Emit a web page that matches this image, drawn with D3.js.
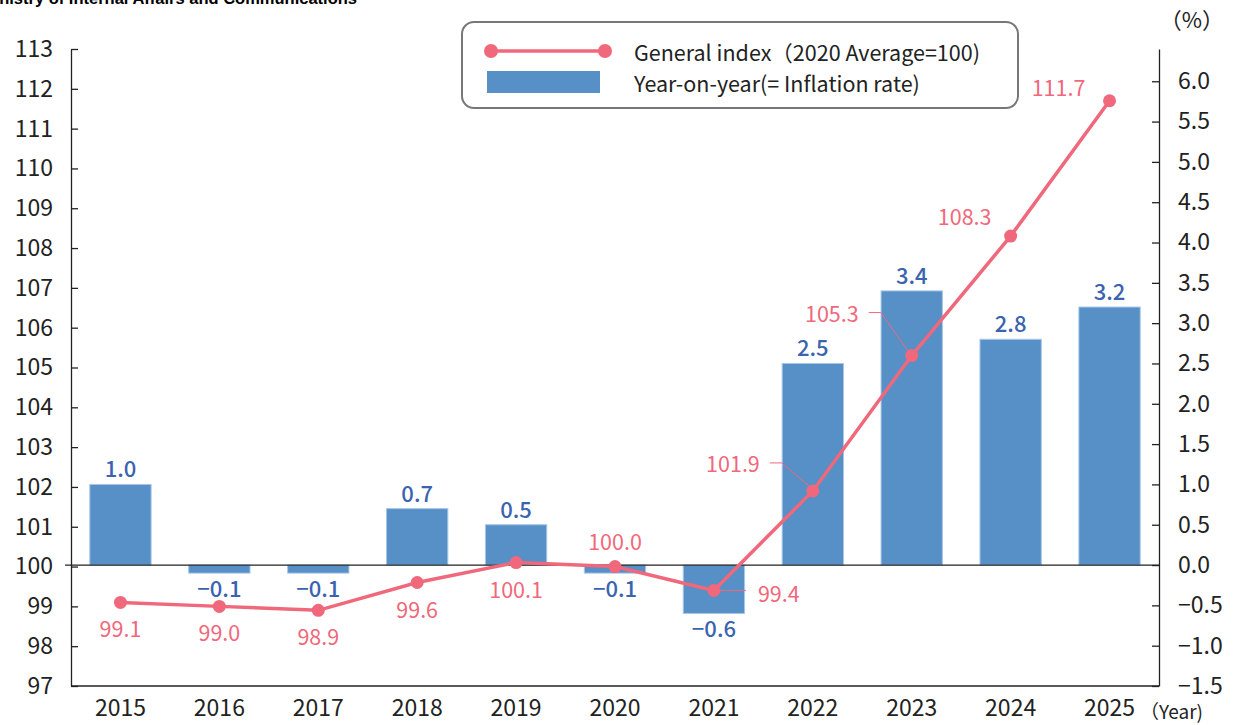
<!DOCTYPE html>
<html lang="en"><head>
<meta charset="utf-8">
<title>cpi</title>
<script src="https://cdn.jsdelivr.net/npm/d3@7"></script>
<style>
  body { margin: 0; background: #fff; }
  text { font-family: "Noto Sans CJK JP", "Noto Sans", sans-serif; }
</style>
</head>
<body>
<svg width="1235" height="725"></svg>
<script>
// data
var years = ["2015","2016","2017","2018","2019","2020","2021","2022","2023","2024","2025"];
var generalIndex = [99.1, 99.0, 98.9, 99.6, 100.1, 100.0, 99.4, 101.9, 105.3, 108.3, 111.7];
var inflation = [1.0, -0.1, -0.1, 0.7, 0.5, -0.1, -0.6, 2.5, 3.4, 2.8, 3.2];
var leftTicks = d3.range(97, 114, 1);
var rightTicks = [-1.5,-1.0,-0.5,0.0,0.5,1.0,1.5,2.0,2.5,3.0,3.5,4.0,4.5,5.0,5.5,6.0];

// where each index label sits relative to its point: [dx, dy, anchor, leader]
var indexLabelPos = [
  [0, 25, "middle"], [0, 25, "middle"], [0, 25, "middle"], [0, 26, "middle"],
  [0, 26, "middle"], [0, -26, "middle"], [44, 2, "start", "right"],
  [-53, -28, "end", "left"], [-53, -43, "end", "left"],
  [-46, -21, "middle"], [-51, -14, "middle"]
];

var svg = d3.select("svg");
var pinkC = "#f0687b", barC = "#5690c6", blueTxt = "#3a63b0";

var plotL = 71, plotR = 1159, plotT = 49, plotB = 686;

var x = d3.scaleBand().domain(years).range([plotL, plotR]).paddingInner(0.38).paddingOuter(0.19);
var yL = d3.scaleLinear().domain([97, 113]).range([plotB, plotT]);
var yR = d3.scaleLinear().domain([-1.5, 6.4]).range([plotB, plotT]);

// clipped source line at very top
svg.append("text")
   .attr("x", 357).attr("y", 4)
   .attr("text-anchor", "end")
   .style("font-family", "Liberation Sans, Arial, sans-serif")
   .style("font-weight", "bold")
   .style("font-size", "16.5px")
   .text("Ministry of Internal Affairs and Communications");

// bars
svg.append("g").selectAll("rect")
   .data(inflation)
   .enter().append("rect")
   .attr("x", function(d, i) { return x(years[i]); })
   .attr("width", x.bandwidth())
   .attr("y", function(d) { return yR(Math.max(d, 0)); })
   .attr("height", function(d) { return Math.abs(yR(d) - yR(0)); })
   .attr("fill", barC)
   .attr("stroke", "#a7c7e7")
   .attr("stroke-width", 1);

// left axis
svg.append("g")
   .attr("transform", "translate(" + plotL + ",0)")
   .call(d3.axisLeft(yL).tickValues(leftTicks).tickSize(-7).tickSizeOuter(0).tickPadding(18))
   .call(function(g) {
     g.selectAll("text").style("font-size", "23px").attr("fill", "#222");
     g.selectAll("line,path").attr("stroke", "#222").attr("stroke-width", 1.3);
   });

// right axis
svg.append("g")
   .attr("transform", "translate(" + plotR + ",0)")
   .call(d3.axisRight(yR).tickValues(rightTicks).tickSize(-7).tickSizeOuter(0).tickPadding(19)
         .tickFormat(function(d) { return d3.format(".1f")(d).replace("-", "\u2212"); }))
   .call(function(g) {
     g.selectAll("text").style("font-size", "23px").attr("fill", "#222");
     g.selectAll("line,path").attr("stroke", "#222").attr("stroke-width", 1.3);
   });

// bottom border + zero line
svg.append("line").attr("x1", plotL).attr("x2", plotR).attr("y1", plotB).attr("y2", plotB)
   .attr("stroke", "#222").attr("stroke-width", 1.3);
svg.append("line").attr("x1", plotL - 6).attr("x2", plotR).attr("y1", yR(0)).attr("y2", yR(0))
   .attr("stroke", "#222").attr("stroke-width", 1.3);

// x labels
svg.append("g")
   .attr("transform", "translate(0," + plotB + ")")
   .call(d3.axisBottom(x).tickSize(0).tickPadding(14))
   .call(function(g) {
     g.select(".domain").remove();
     g.selectAll("text").style("font-size", "23px").attr("fill", "#222");
   });

svg.append("text").attr("x", 1140).attr("y", 719)
   .style("font-size", "19px").attr("fill", "#222").text("\uff08Year)");
svg.append("text").attr("x", 1192).attr("y", 28).attr("text-anchor", "middle")
   .style("font-size", "22px").attr("fill", "#222").text("\uff08%\uff09");

// bar labels
svg.append("g").selectAll("text")
   .data(inflation)
   .enter().append("text")
   .attr("x", function(d, i) { return x(years[i]) + x.bandwidth() / 2; })
   .attr("y", function(d) { return d >= 0 ? yR(d) - 17 : yR(d) + 14; })
   .attr("dominant-baseline", "central")
   .attr("text-anchor", "middle")
   .style("font-size", "22px")
   .style("font-weight", "500")
   .attr("fill", blueTxt)
   .text(function(d) { return d3.format(".1f")(d).replace("-", "\u2212"); });

// index line
var cx = function(i) { return x(years[i]) + x.bandwidth() / 2; };
var line = d3.line()
   .x(function(d, i) { return cx(i); })
   .y(function(d) { return yL(d); });

svg.append("path")
   .datum(generalIndex)
   .attr("d", line)
   .attr("fill", "none")
   .attr("stroke", pinkC)
   .attr("stroke-width", 3.5);

svg.append("g").selectAll("circle")
   .data(generalIndex)
   .enter().append("circle")
   .attr("cx", function(d, i) { return cx(i); })
   .attr("cy", function(d) { return yL(d); })
   .attr("r", 6.5)
   .attr("fill", pinkC);

// leader lines
generalIndex.forEach(function(d, i) {
  var p = indexLabelPos[i], px = cx(i), py = yL(d);
  if (p[3] === "left") {
    svg.append("polyline")
       .attr("points", [[px + p[0] + 10, py + p[1]], [px + p[0] + 22, py + p[1]], [px - 4, py - 5]].join(" "))
       .attr("fill", "none").attr("stroke", pinkC).attr("stroke-width", 1);
  } else if (p[3] === "right") {
    svg.append("line")
       .attr("x1", px + 5).attr("x2", px + p[0] - 12)
       .attr("y1", py).attr("y2", py)
       .attr("stroke", pinkC).attr("stroke-width", 1);
  }
});

svg.append("g").selectAll("text")
   .data(generalIndex)
   .enter().append("text")
   .attr("x", function(d, i) { return cx(i) + indexLabelPos[i][0]; })
   .attr("y", function(d, i) { return yL(d) + indexLabelPos[i][1]; })
   .attr("dominant-baseline", "central")
   .attr("text-anchor", function(d, i) { return indexLabelPos[i][2]; })
   .style("font-size", "21.5px")
   .attr("fill", pinkC)
   .text(function(d) { return d3.format(".1f")(d); });

// legend
var lg = svg.append("g");
lg.append("rect")
  .attr("x", 462).attr("y", 22).attr("width", 556).attr("height", 86)
  .attr("rx", 12).attr("fill", "#fff").attr("stroke", "#777").attr("stroke-width", 2);
lg.append("line").attr("x1", 491).attr("x2", 605).attr("y1", 51).attr("y2", 51)
  .attr("stroke", pinkC).attr("stroke-width", 3.5);
lg.selectAll("circle").data([491, 605]).enter().append("circle")
  .attr("cx", function(d) { return d; }).attr("cy", 51).attr("r", 7).attr("fill", pinkC);
lg.append("rect").attr("x", 487).attr("y", 71).attr("width", 113).attr("height", 22).attr("fill", barC);
lg.append("text").attr("x", 634).attr("y", 51).attr("dominant-baseline", "central")
  .style("font-size", "21.5px").attr("fill", "#222").text("General index\uff082020 Average=100)");
lg.append("text").attr("x", 634).attr("y", 82).attr("dominant-baseline", "central")
  .style("font-size", "21.5px").attr("fill", "#222").text("Year-on-year(= Inflation rate)");
</script>
</body>
</html>
